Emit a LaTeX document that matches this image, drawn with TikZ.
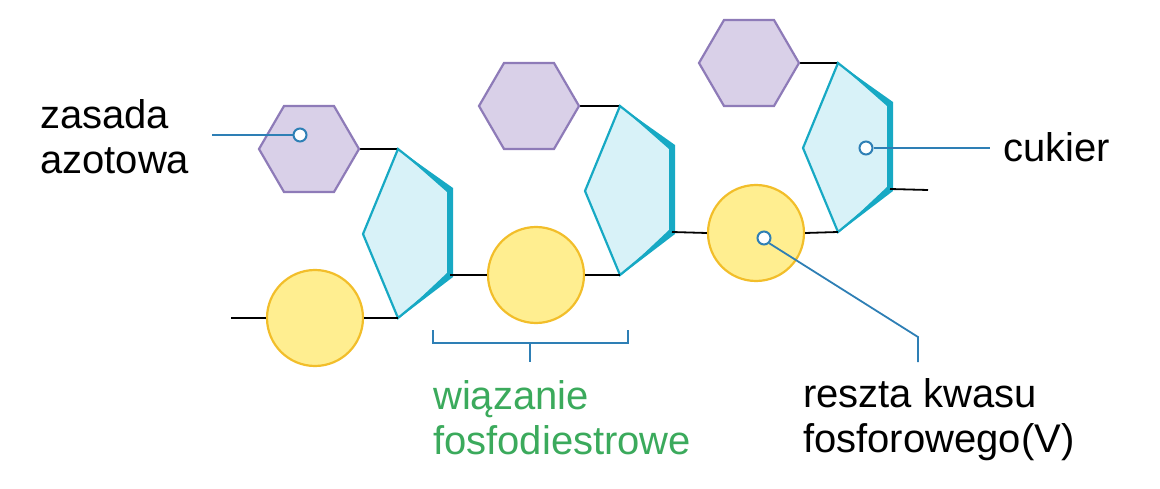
\documentclass[tikz,border=0pt]{standalone}
\usepackage{fontspec}
\setmainfont{Liberation Sans}
\definecolor{hexfill}{HTML}{D9D0E8}
\definecolor{hexline}{HTML}{8E7BB8}
\definecolor{pfill}{HTML}{D8F2F8}
\definecolor{pline}{HTML}{17A9C4}
\definecolor{cfill}{HTML}{FFEE90}
\definecolor{cline}{HTML}{F2BE2A}
\definecolor{lead}{HTML}{2E7FB5}
\definecolor{grn}{HTML}{3BAA5C}
\tikzset{
 hexa/.style={fill=hexfill,draw=hexline,line width=2.2pt,line join=miter},
 pent/.style={fill=pfill,draw=pline,line width=2.2pt,line join=miter},
 ball/.style={circle,fill=cfill,draw=cline,line width=2.2pt,minimum size=96pt,inner sep=0pt},
 bond/.style={draw=black,line width=1.8pt},
 leader/.style={draw=lead,line width=1.8pt},
 dot/.style={circle,fill=white,draw=lead,line width=2pt,minimum size=13pt,inner sep=0pt},
 lbl/.style={font=\fontsize{40}{45}\selectfont,align=left,anchor=west,inner sep=0pt}
}
\begin{document}
\begin{tikzpicture}[x=1pt,y=-1pt]
\useasboundingbox (0,0) rectangle (1160,489);
\foreach \i/\hx/\hy/\px/\py in {1/309/149/398/149, 2/529/106/620/106, 3/749/63/838/63}{
  \draw[bond] (\hx+50,\hy) -- (\px,\py);
  \draw[hexa] (\hx-50,\hy) -- (\hx-25,\hy-43) -- (\hx+25,\hy-43) -- (\hx+50,\hy) -- (\hx+25,\hy+43) -- (\hx-25,\hy+43) -- cycle;
  \draw[pent] (\px,\py) -- (\px+52,\py+41) -- (\px+52,\py+126) -- (\px,\py+169) -- (\px-35,\py+85) -- cycle;
  \fill[pline] (\px,\py) -- (\px+55,\py+39) -- (\px+55,\py+128) -- (\px,\py+170) -- (\px+49,\py+124) -- (\px+49,\py+43) -- cycle;
  \coordinate (rb\i) at (\px+52,\py+126);
  \coordinate (bt\i) at (\px,\py+169);
}
\node[ball] (c1) at (315,318) {};
\node[ball] (c2) at (536,275) {};
\node[ball] (c3) at (756,233) {};
\coordinate (s0) at (231,318);
\coordinate (e3) at (928,190);
\draw[bond] (s0) -- (c1.west);
\draw[bond] (c1.east) -- (bt1);
\draw[bond] (rb1) -- (c2.west);
\draw[bond] (c2.east) -- (bt2);
\draw[bond] (rb2) -- (c3.west);
\draw[bond] (c3.east) -- (bt3);
\draw[bond] (rb3) -- (e3);
\node[lbl] (zas) at (40,137) {zasada\\azotowa};
\node[lbl] (cuk) at (1003,147) {cukier};
\node[lbl,text=grn] (wia) at (433,418) {wiązanie\\fosfodiestrowe};
\node[lbl] (res) at (803,420) {reszta kwasu\\fosforowego(V)};
\node[dot] (d1) at (300,135) {};
\node[dot] (d2) at (866,148) {};
\node[dot] (d3) at (764,238) {};
\coordinate (l1) at (212,135);
\coordinate (l2) at (990,148);
\coordinate (l3a) at (918,337);
\coordinate (l3b) at (918,362);
\draw[leader] (l1) -- (d1.west);
\draw[leader] (d2.east) -- (l2);
\draw[leader] (d3.south east) -- (l3a) -- (l3b);
\coordinate (b1) at (433,330);
\coordinate (b2) at (628,330);
\coordinate (bm) at (530,343);
\coordinate (bt) at (530,362);
\draw[leader] (b1) -- (433,343) -- (628,343) -- (b2);
\draw[leader] (bm) -- (bt);
\end{tikzpicture}
\end{document}
